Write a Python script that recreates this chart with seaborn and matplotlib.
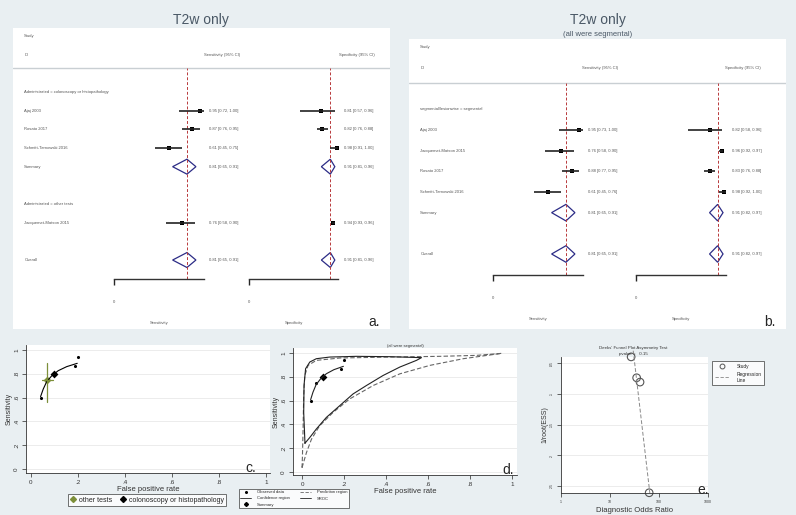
import numpy as np
import matplotlib
matplotlib.use("Agg")
import matplotlib.pyplot as plt
import matplotlib.transforms as mtrans
from matplotlib.lines import Line2D
import seaborn as sns

# ---- forest plot data (panel a) ----
a_groups = ["Administrated = colonoscopy or histopathology", "Administrated = other tests"]
a_names = ["Ajaj 2003", "Rosato 2017", "Schmitt-Tarnowski 2016", "Jacquemet-Matson 2015"]
a_sens = [0.95, 0.87, 0.61, 0.76]
a_sens_lo = [0.72, 0.76, 0.45, 0.58]
a_sens_hi = [1.00, 0.95, 0.75, 0.90]
a_spec = [0.81, 0.82, 0.98, 0.94]
a_spec_lo = [0.57, 0.76, 0.91, 0.93]
a_spec_hi = [0.96, 0.88, 1.00, 0.96]
a_sum_sens = [(0.81, 0.65, 0.91), (0.81, 0.65, 0.91)]   # summary, overall
a_sum_spec = [(0.91, 0.81, 0.96), (0.91, 0.81, 0.96)]

# ---- forest plot data (panel b) ----
b_groups = ["segmental/lesionwise = segmental"]
b_names = ["Ajaj 2003", "Jacquemet-Matson 2015", "Rosato 2017", "Schmitt-Tarnowski 2016"]
b_sens = [0.95, 0.76, 0.88, 0.61]
b_sens_lo = [0.73, 0.58, 0.77, 0.45]
b_sens_hi = [1.00, 0.90, 0.95, 0.76]
b_spec = [0.82, 0.96, 0.83, 0.98]
b_spec_lo = [0.58, 0.92, 0.76, 0.92]
b_spec_hi = [0.96, 0.97, 0.88, 1.00]
b_sum_sens = [(0.81, 0.65, 0.91), (0.81, 0.65, 0.91)]
b_sum_spec = [(0.91, 0.82, 0.97), (0.91, 0.82, 0.97)]

# ---- SROC data (panels c, d) ----
obs_fpr = [0.041, 0.068, 0.188, 0.200]
obs_sens = [0.600, 0.746, 0.862, 0.942]
sum_fpr, sum_sens = 0.10, 0.795
other_fpr, other_sens = 0.067, 0.75
other_fpr_ci = [0.045, 0.092]
other_sens_ci = [0.566, 0.888]
sroc_fpr = [0.041, 0.052, 0.067, 0.088, 0.116, 0.152, 0.197]
sroc_sens = [0.608, 0.670, 0.734, 0.782, 0.826, 0.860, 0.888]
conf_fpr = [0.014, 0.008, 0.0095, 0.017, 0.037, 0.068, 0.132, 0.259, 0.418, 0.569,
            0.545, 0.466, 0.386, 0.307, 0.243, 0.180, 0.116, 0.068, 0.037, 0.014]
conf_sens = [0.242, 0.50, 0.727, 0.868, 0.924, 0.952, 0.966, 0.972, 0.969, 0.961,
             0.938, 0.882, 0.811, 0.727, 0.656, 0.558, 0.459, 0.361, 0.29, 0.242]
pred_fpr = [0.0, 0.021, 0.045, 0.084, 0.148, 0.227, 0.339, 0.466, 0.609, 0.768, 0.951,
            0.831, 0.657, 0.418, 0.18, 0.068, 0.029, 0.013, 0.008, 0.005, 0.002, 0.0]
pred_sens = [0.037, 0.163, 0.276, 0.389, 0.501, 0.614, 0.727, 0.825, 0.896, 0.952, 0.997,
             0.980, 0.972, 0.966, 0.958, 0.938, 0.896, 0.811, 0.642, 0.361, 0.135, 0.037]

# ---- Deeks funnel data (panel e) ----
deeks_dor = [27, 35, 41, 63]
deeks_inv_ess = [0.040, 0.074, 0.081, 0.261]
deeks_p = 0.15

rate_ticks = [0, 0.2, 0.4, 0.6, 0.8, 1]
rate_labels = ["0", ".2", ".4", ".6", ".8", "1"]
ess_ticks = [0.05, 0.10, 0.15, 0.20, 0.25]
ess_labels = [".05", ".1", ".15", ".2", ".25"]
dor_ticks = [1, 10, 100, 1000]

sns.set_style("white")
plt.rcParams["font.family"] = ["Liberation Sans", "DejaVu Sans"]

W, H = 796, 515
BG = "#e9eff2"
TXT = "#555555"
fig = plt.figure(figsize=(W / 100, H / 100), dpi=100, facecolor=BG)


def rect(l, t, r, b):
    return [l / W, 1 - b / H, (r - l) / W, (b - t) / H]


def ftext(x, y, s, **kw):
    fig.text(x / W, 1 - y / H, s, **kw)


def fmt(e, lo, hi):
    return f"{e:.2f} [{lo:.2f}, {hi:.2f}]"


def forest(box, layout, groups, names, est, sum_est, row1, step, line_y, base_y,
           sens_px, spec_px, val_px, head_px, letter):
    l, t, r, b = box
    bg = fig.add_axes(rect(*box))
    bg.set_facecolor("white")
    bg.set_xticks([])
    bg.set_yticks([])
    for s in bg.spines.values():
        s.set_visible(False)
    bg.axhline((b - line_y) / (b - t), color="#c9cfd3", lw=1)

    ftext(l + 11, head_px[0], "Study", fontsize=3, color=TXT, va="center")
    ftext(l + 11, head_px[1], "ID", fontsize=3, color=TXT, va="center")
    ftext(head_px[2], head_px[1], "Sensitivity (95% CI)", fontsize=3, color=TXT,
          va="center", ha="center")
    ftext(head_px[3], head_px[1], "Specificity (95% CI)", fontsize=3, color=TXT,
          va="center", ha="center")

    r_top = 1 + (line_y - row1) / step
    r_bot = 1 + (base_y - row1) / step
    axes = []
    for k, (x0, x1) in enumerate([sens_px, spec_px]):
        ax = fig.add_axes(rect(x0, line_y, x1, base_y))
        ax.patch.set_alpha(0)
        ax.set_xlim(0, 1)
        ax.set_ylim(r_bot, r_top)
        for side in ["top", "right", "left"]:
            ax.spines[side].set_visible(False)
        ax.spines["bottom"].set_color("#333333")
        ax.spines["bottom"].set_linewidth(1)
        ax.set_yticks([])
        ax.set_xticks([0], ["0"])
        ax.tick_params(axis="x", direction="out", length=4, width=1, pad=11,
                       labelsize=3, labelcolor=TXT, bottom=True)
        ax.set_xlabel(["Sensitivity", "Specificity"][k], fontsize=3, color=TXT)
        ax.xaxis.set_label_coords(0.5, -(H - 0) * 0 - 42.0 / (base_y - line_y))
        ax.axvline(sum_est[k][1][0], color="#b8393b", lw=0.7, ls=(0, (3, 2)))
        axes.append(ax)

    name_tr = mtrans.blended_transform_factory(fig.transFigure, axes[0].transData)
    st_rows, st_vals = [], [[], []]
    for i, item in enumerate(layout):
        row = i + 1
        kind = item[0]
        if kind == "group":
            axes[0].text((l + 11) / W, row, groups[item[1]], transform=name_tr,
                         fontsize=3, color=TXT, va="center")
        elif kind == "study":
            j = item[1]
            axes[0].text((l + 11) / W, row, names[j], transform=name_tr,
                         fontsize=3, color=TXT, va="center")
            for k in range(2):
                e, lo, hi = est[k][0][j], est[k][1][j], est[k][2][j]
                axes[k].hlines(row, lo, hi, color="#222222", lw=1.2)
                axes[k].text(val_px[k] / W, row, fmt(e, lo, hi), fontsize=3, color=TXT,
                             va="center", transform=name_tr)
                st_vals[k].append(e)
            st_rows.append(row)
        elif kind in ("summary", "overall"):
            axes[0].text((l + 11) / W, row, "Summary" if kind == "summary" else "Overall",
                         transform=name_tr, fontsize=3, color=TXT, va="center")
            for k in range(2):
                e, lo, hi = sum_est[k][item[1]]
                hh = 0.4
                axes[k].fill([lo, e, hi, e, lo], [row, row - hh, row, row + hh, row],
                             facecolor="none", edgecolor="#2c2c86", lw=0.9)
                axes[k].text(val_px[k] / W, row, fmt(e, lo, hi), fontsize=3, color=TXT,
                             va="center", transform=name_tr)
    for k in range(2):
        sns.scatterplot(x=st_vals[k], y=st_rows, marker="s", s=7, color="black",
                        linewidth=0, ax=axes[k], legend=False)
        axes[k].set_xlabel(["Sensitivity", "Specificity"][k], fontsize=3, color=TXT)
    ftext(r - 16, b - 7, letter, fontsize=10, ha="center", va="center")


# panel a
layout_a = [("group", 0), ("study", 0), ("study", 1), ("study", 2), ("summary", 0), ("",),
            ("group", 1), ("study", 3), ("",), ("overall", 1)]
forest((13.3, 28.3, 390, 329), layout_a, a_groups, a_names,
       [(a_sens, a_sens_lo, a_sens_hi), (a_spec, a_spec_lo, a_spec_hi)],
       [a_sum_sens, a_sum_spec], 92, 18.67, 68.3, 279.3,
       (114.3, 204), (248.7, 338.4), (209.3, 344), (36, 54.7, 221.7, 356.7), "a.")
ftext(201, 20, "T2w only", fontsize=10, color="#4a5866", ha="center", va="center")

# panel b
layout_b = [("group", 0), ("study", 0), ("study", 1), ("study", 2), ("study", 3),
            ("summary", 0), ("",), ("overall", 1)]
forest((409.3, 39.3, 785.7, 329), layout_b, b_groups, b_names,
       [(b_sens, b_sens_lo, b_sens_hi), (b_spec, b_spec_lo, b_spec_hi)],
       [b_sum_sens, b_sum_spec], 109.3, 20.67, 82.7, 275,
       (493.3, 583), (636, 725.7), (588.3, 731.7), (47.3, 68, 600, 742.7), "b.")
ftext(598, 20, "T2w only", fontsize=10, color="#4a5866", ha="center", va="center")
ftext(598, 34, "(all were segmental)", fontsize=5.5, color="#4a5866", ha="center", va="center")


def style_rate(ax, xlim, ylim):
    ax.set_facecolor("white")
    ax.set_xlim(*xlim)
    ax.set_ylim(*ylim)
    ax.set_xticks(rate_ticks, rate_labels)
    ax.set_yticks(rate_ticks, rate_labels, rotation=90, va="center")
    ax.tick_params(direction="out", length=3, width=0.5, labelsize=4.5, pad=2,
                   bottom=True, left=True, labelcolor="#333333")
    for ytk in rate_ticks:
        ax.axhline(ytk, color="#e4e4e4", lw=0.5, zorder=0)
    for side in ["top", "right"]:
        ax.spines[side].set_visible(False)
    for side in ["left", "bottom"]:
        ax.spines[side].set_color("#333333")
        ax.spines[side].set_linewidth(0.6)
    ax.set_xlabel("False positive rate", fontsize=5.5, labelpad=1, color="#333333")
    ax.set_ylabel("Sensitivity", fontsize=5, labelpad=1, color="#333333")


# panel c
ax_c = fig.add_axes(rect(26, 345, 270, 473))
style_rate(ax_c, (-0.021, 1.017), (-0.034, 1.042))
sns.lineplot(x=sroc_fpr, y=sroc_sens, sort=False, estimator=None, color="black", lw=0.8,
             ax=ax_c)
sns.scatterplot(x=[obs_fpr[0], obs_fpr[2], obs_fpr[3]], y=[obs_sens[0], obs_sens[2], obs_sens[3]],
                color="black", s=5, linewidth=0, ax=ax_c)
sns.scatterplot(x=[sum_fpr], y=[sum_sens], marker="D", color="black", s=16, linewidth=0, ax=ax_c)
ax_c.plot([other_fpr, other_fpr], other_sens_ci, color="#7d8f3a", lw=0.9)
ax_c.plot(other_fpr_ci, [other_sens, other_sens], color="#7d8f3a", lw=0.9)
sns.scatterplot(x=[other_fpr], y=[other_sens], marker="D", color="#7d8f3a", s=16,
                linewidth=0, ax=ax_c)
ftext(251, 468, "c.", fontsize=10, ha="center", va="center")

fig.legend(handles=[Line2D([], [], marker="D", ls="", color="#7d8f3a", ms=3),
                    Line2D([], [], marker="D", ls="", color="black", ms=3)],
           labels=["other tests", "colonoscopy or histopathology"], ncol=2, loc="center",
           bbox_to_anchor=(147 / W, 1 - 500 / H), fontsize=5, frameon=True, fancybox=False,
           edgecolor="#333333", facecolor="white", handlelength=0.8, handletextpad=0.4,
           columnspacing=1.2, borderpad=0.35).get_frame().set_linewidth(0.6)

# panel d
ax_d = fig.add_axes(rect(293, 348, 517, 475))
style_rate(ax_d, (-0.043, 1.024), (-0.025, 1.042))
ax_d.set_title("(all were segmental)", fontsize=3, pad=1, color="#333333")
sns.lineplot(x=pred_fpr, y=pred_sens, sort=False, estimator=None, color="#666666", lw=0.8,
             ls=(0, (4, 2)), ax=ax_d)
sns.lineplot(x=conf_fpr, y=conf_sens, sort=False, estimator=None, color="#222222", lw=0.8,
             ax=ax_d)
sns.lineplot(x=sroc_fpr, y=sroc_sens, sort=False, estimator=None, color="#222222", lw=0.8,
             ax=ax_d)
sns.scatterplot(x=obs_fpr, y=obs_sens, color="black", s=5, linewidth=0, ax=ax_d)
sns.scatterplot(x=[sum_fpr], y=[sum_sens], marker="D", color="black", s=16, linewidth=0, ax=ax_d)
ftext(508, 470, "d.", fontsize=10, ha="center", va="center")

lg = fig.legend(handles=[Line2D([], [], marker="o", ls="", color="black", ms=1.2),
                         Line2D([], [], color="#222222", lw=0.6),
                         Line2D([], [], marker="D", ls="", color="black", ms=2),
                         Line2D([], [], color="#666666", lw=0.6, ls=(0, (4, 2))),
                         Line2D([], [], color="#222222", lw=0.6)],
                labels=["Observed data", "Confidence region", "Summary",
                        "Prediction region", "SROC"],
                ncol=2, loc="center", bbox_to_anchor=(294 / W, 1 - 498.5 / H), fontsize=3,
                frameon=True, fancybox=False, edgecolor="#333333", facecolor="white",
                handlelength=2.5, handletextpad=1.5, columnspacing=2.5, borderpad=0.4,
                labelspacing=0.5)
lg.get_frame().set_linewidth(0.6)

# panel e
ax_e = fig.add_axes(rect(561, 357, 708, 493))
ax_e.set_facecolor("white")
ax_e.set_xscale("log")
ax_e.set_xlim(1, 1000)
ax_e.set_ylim(0.2614, 0.0402)
ax_e.set_xticks(dor_ticks, [str(d) for d in dor_ticks])
ax_e.minorticks_off()
ax_e.set_yticks(ess_ticks, ess_labels, rotation=90, va="center")
ax_e.tick_params(direction="out", length=3, width=0.5, labelsize=2.5, pad=2,
                 bottom=True, left=True, labelcolor="#333333")
for ytk in ess_ticks:
    ax_e.axhline(ytk, color="#e4e4e4", lw=0.5, zorder=0)
for side in ["top", "right"]:
    ax_e.spines[side].set_visible(False)
for side in ["left", "bottom"]:
    ax_e.spines[side].set_color("#333333")
    ax_e.spines[side].set_linewidth(0.6)
slope, icpt = np.polyfit(deeks_inv_ess, np.log10(deeks_dor), 1)
yy = np.array([0.03, 0.2614])
ax_e.plot(10 ** (icpt + slope * yy), yy, color="#888888", lw=0.7, ls=(0, (4, 2)), clip_on=False)
sns.scatterplot(x=deeks_dor, y=deeks_inv_ess, marker="o", s=30, facecolor="none",
                edgecolor="#555555", linewidth=0.8, ax=ax_e, clip_on=False)
ax_e.set_xlabel("Diagnostic Odds Ratio", fontsize=5.5, labelpad=2, color="#333333")
ax_e.set_ylabel("1/root(ESS)", fontsize=5, labelpad=1, color="#333333")
ftext(633, 348, "Deeks' Funnel Plot Asymmetry Test", fontsize=3.2, ha="center", va="center",
      color="#333333")
ftext(633, 354, f"pvalue =   {deeks_p:.2f}", fontsize=3.2, ha="center", va="center",
      color="#333333")
ftext(703, 490, "e.", fontsize=10, ha="center", va="center")

lg_e = fig.legend(handles=[Line2D([], [], marker="o", ls="", mfc="none", mec="#555555", ms=3.5,
                                  mew=0.7),
                           Line2D([], [], color="#888888", lw=0.6, ls=(0, (4, 2)))],
                  labels=["Study", "Regression\nLine"], loc="upper left",
                  bbox_to_anchor=(710 / W, 1 - 359 / H), fontsize=3.5, frameon=True,
                  fancybox=False, edgecolor="#333333", facecolor="white", handlelength=3,
                  handletextpad=1.5, borderpad=0.5, labelspacing=0.6)
lg_e.get_frame().set_linewidth(0.6)

fig.savefig("out.png", dpi=100, facecolor=BG)
